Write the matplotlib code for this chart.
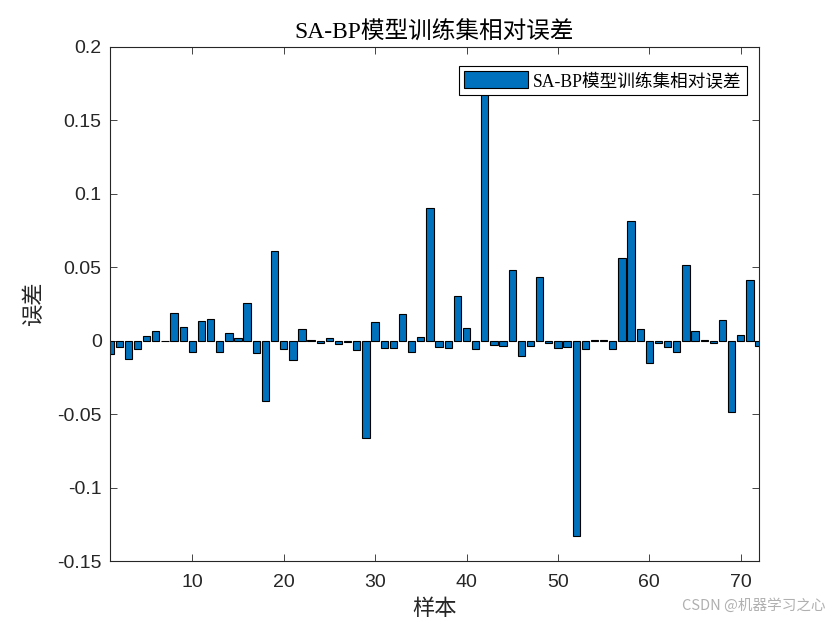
import matplotlib
matplotlib.use("Agg")
import matplotlib.pyplot as plt
import numpy as np

samples = list(range(1, 73))
errors = [
    -0.0091, -0.0041, -0.0125, -0.0057, 0.0032, 0.0066, -0.0005, 0.0188, 0.0093, -0.0075,
    0.0134, 0.0147, -0.0075, 0.0052, 0.0018, 0.0256, -0.0082, -0.0409, 0.0612, -0.0054,
    -0.0132, 0.0079, 0.0003, -0.0014, 0.0018, -0.0023, -0.0009, -0.0064, -0.0662, 0.0129,
    -0.0050, -0.0050, 0.0181, -0.0079, 0.0024, 0.0905, -0.0041, -0.0050, 0.0304, 0.0086,
    -0.0057, 0.1800, -0.0029, -0.0036, 0.0481, -0.0104, -0.0036, 0.0433, -0.0016, -0.0050,
    -0.0041, -0.1330, -0.0056, 0.0002, 0.0007, -0.0054, 0.0565, 0.0816, 0.0082, -0.0150,
    -0.0014, -0.0041, -0.0075, 0.0517, 0.0068, 0.0002, -0.0014, 0.0143, -0.0483, 0.0041,
    0.0415, -0.0034,
]
yticks = [-0.15, -0.1, -0.05, 0, 0.05, 0.1, 0.15, 0.2]
ytick_labels = ["-0.15", "-0.1", "-0.05", "0", "0.05", "0.1", "0.15", "0.2"]
xticks = [10, 20, 30, 40, 50, 60, 70]

title_text = "SA-BP模型训练集相对误差"
serif_cjk = ["Liberation Serif", "Noto Sans CJK SC"]
sans_cjk = ["Noto Sans CJK SC", "DejaVu Sans"]
tick_font = ["Liberation Sans", "DejaVu Sans"]
dark = "#262626"

fig = plt.figure(figsize=(8.4, 6.3), dpi=100)
ax = fig.add_axes([0.131, 0.1095, 0.7726, 0.8159])

ax.bar(samples, errors, width=0.8, color="#0072BD", edgecolor="black",
       linewidth=0.8, label=title_text, zorder=2)

ax.set_xlim(1, 72)
ax.set_ylim(-0.15, 0.2)
ax.set_yticks(yticks)
ax.set_yticklabels(ytick_labels)
ax.set_xticks(xticks)
ax.tick_params(direction="in", length=5, width=0.6, top=True, right=True,
               labelsize=14, colors=dark, labelcolor=dark)
ax.tick_params(axis="x", pad=9)
ax.tick_params(axis="y", pad=6)
for lab in ax.get_xticklabels() + ax.get_yticklabels():
    lab.set_family(tick_font)
for s in ax.spines.values():
    s.set_linewidth(0.8)
    s.set_color(dark)

ax.set_title(title_text, fontsize=17, family=serif_cjk, color="black", pad=6)
ax.set_xlabel("样本", fontsize=16, family=sans_cjk, color=dark, labelpad=5)
ax.set_ylabel("误差", fontsize=16, family=sans_cjk, color=dark, labelpad=9)

leg = ax.legend(loc="upper right", bbox_to_anchor=(0.9815, 0.963),
                prop={"family": serif_cjk, "size": 12.7},
                fancybox=False, framealpha=1, edgecolor="black",
                handlelength=3.6, handleheight=1.1, borderpad=0.3,
                handletextpad=0.3, borderaxespad=0.0)
leg.get_frame().set_linewidth(0.8)
leg.set_zorder(5)

fig.text(0.983, 0.027, "CSDN @机器学习之心", ha="right", va="bottom",
         fontsize=10.5, color="#b0b0b0", family=sans_cjk)

fig.savefig("out.png", dpi=100)
